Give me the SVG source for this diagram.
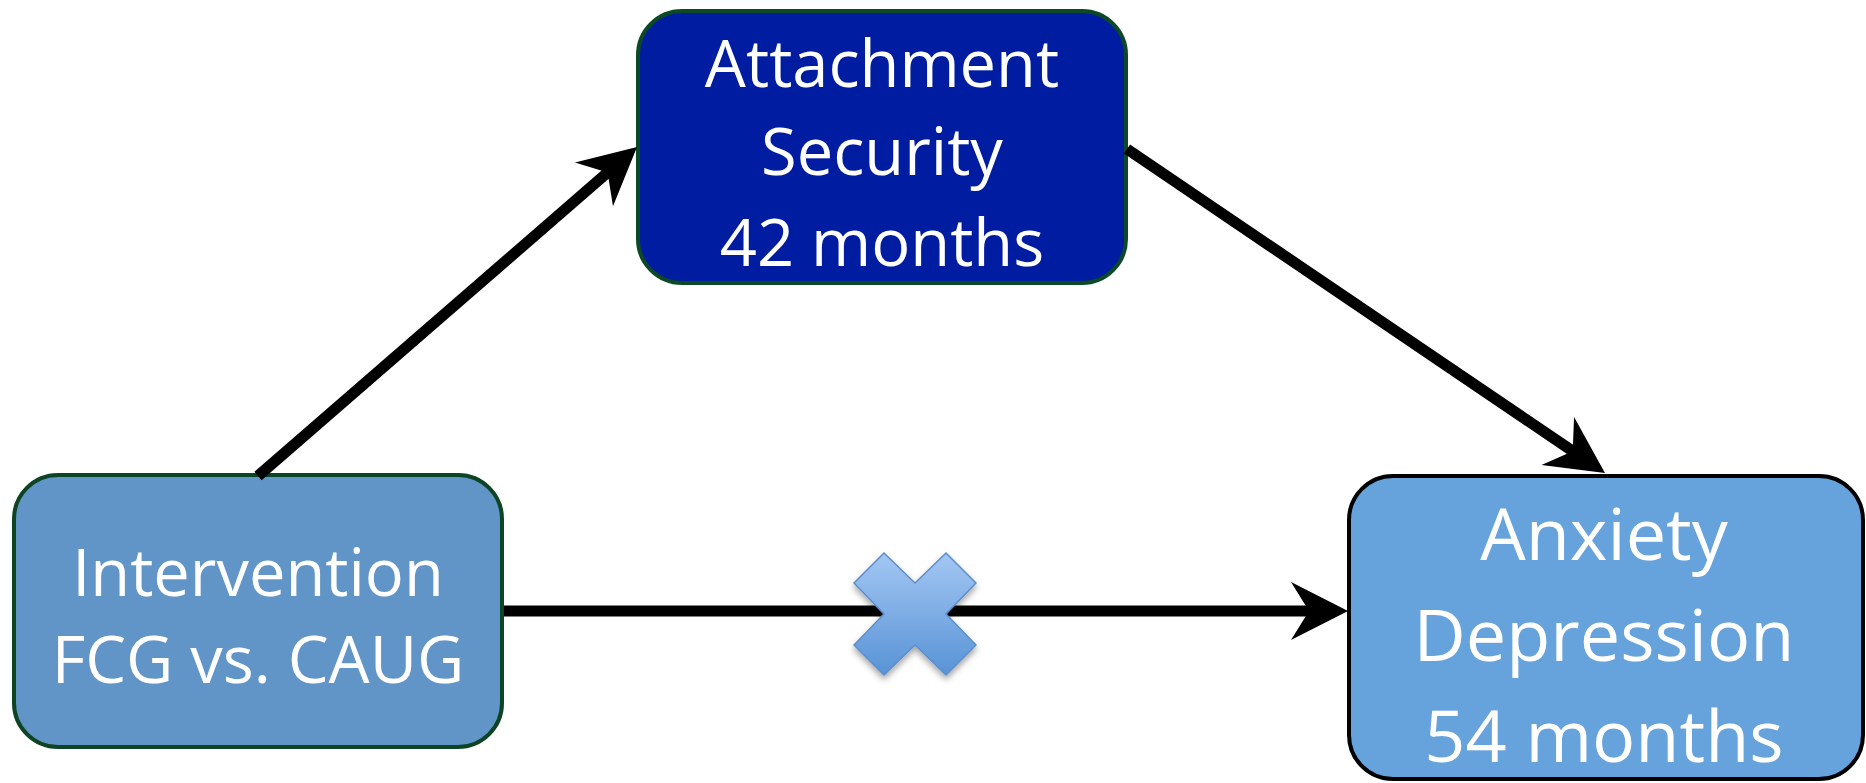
<svg xmlns="http://www.w3.org/2000/svg" width="1866" height="783" viewBox="0 0 1866 783">
<style>
.lbl{font-family:"Open Sans","Liberation Sans",sans-serif;fill:#fff;text-anchor:middle}
.conn{stroke:#000;stroke-width:11;fill:none;stroke-linecap:butt}
</style>
<defs>
<marker id="ah" markerUnits="userSpaceOnUse" markerWidth="60" markerHeight="60" viewBox="0 0 60 60" refX="22" refY="30" orient="auto"><path d="M57,30 L0,1 L18,30 L0,59 Z" fill="#000"/></marker>
<linearGradient id="xg" x1="0" y1="0" x2="0" y2="1"><stop offset="0" stop-color="#A3C7F3"/><stop offset="1" stop-color="#5893D6"/></linearGradient>
<filter id="sh" x="-30%" y="-30%" width="160%" height="160%"><feDropShadow dx="0" dy="4" stdDeviation="3" flood-color="#000" flood-opacity="0.35"/></filter>
</defs>
<rect width="1866" height="783" fill="#fff"/>
<g id="node-attachment">
<rect x="638" y="11" width="488" height="272" rx="44" fill="#001CA0" stroke="#0B4A25" stroke-width="4"/>
<text class="lbl" x="882" y="87" font-size="65">Attachment</text>
<text class="lbl" x="882" y="175" font-size="65">Security</text>
<text class="lbl" x="882" y="266" font-size="65">42 months</text>
</g>
<g id="node-intervention">
<rect x="14" y="475" width="488" height="272" rx="44" fill="#6195C7" stroke="#0D4423" stroke-width="4"/>
<text class="lbl" x="258" y="596" font-size="65">Intervention</text>
<text class="lbl" x="258" y="683" font-size="65">FCG vs. CAUG</text>
</g>
<g id="node-outcome">
<rect x="1349" y="476" width="514" height="303" rx="44" fill="#66A2DC" stroke="#000" stroke-width="4"/>
<text class="lbl" x="1604" y="560" font-size="72">Anxiety</text>
<text class="lbl" x="1604" y="661" font-size="72">Depression</text>
<text class="lbl" x="1604" y="762" font-size="72">54 months</text>
</g>
<g id="connectors">
<path class="conn" d="M258,476 L610.6,169.9" marker-end="url(#ah)"/>
<path class="conn" d="M1127,149 L1576,453.4" marker-end="url(#ah)"/>
<path class="conn" d="M504,611 L1313,611" marker-end="url(#ah)"/>
</g>
<g id="no-effect">
<path d="M915,583 L946,553 L976,583 L946,614 L976,645 L946,675 L915,645 L884,675 L854,645 L884,614 L854,583 L884,553 Z" fill="url(#xg)" stroke="#5C8DCC" stroke-width="1.5" filter="url(#sh)"/>
</g>
</svg>
